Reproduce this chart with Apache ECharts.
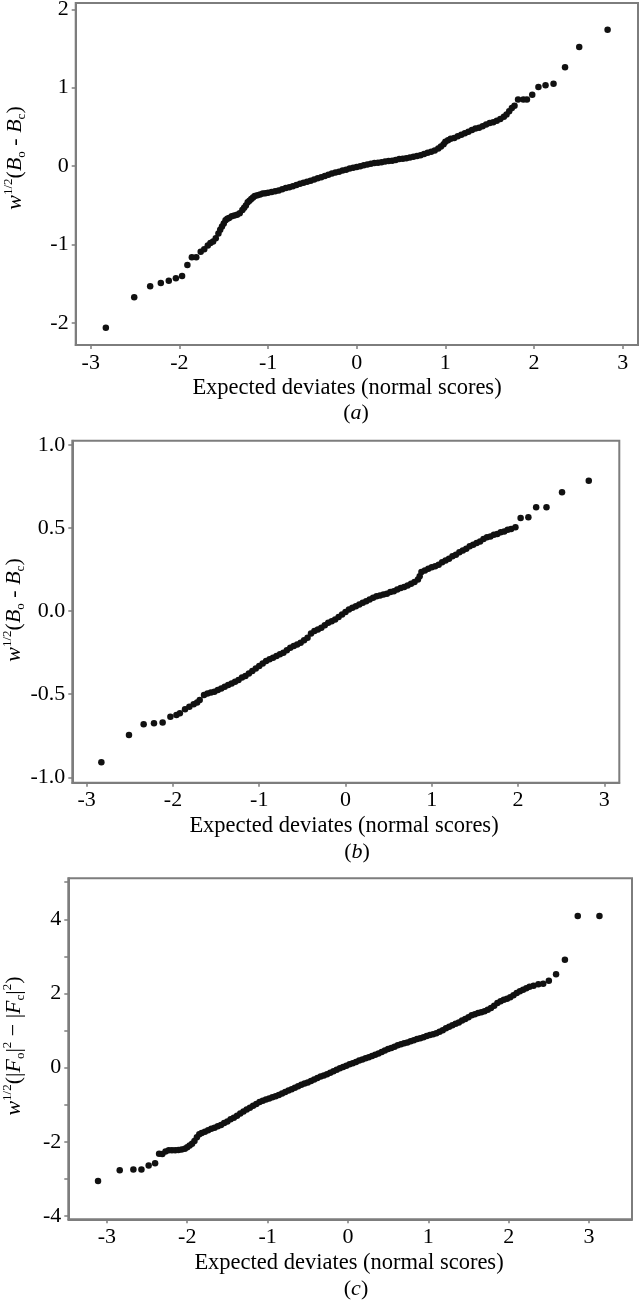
<!DOCTYPE html>
<html><head><meta charset="utf-8">
<script src="https://cdn.jsdelivr.net/npm/echarts@6/dist/echarts.min.js"></script>
<style>html,body{margin:0;padding:0;background:#fff}#c{width:640px;height:1301px}</style>
</head><body><div id="c"></div>
<script>
// ---- data: [expected normal score, weighted residual] ----
const panelA = [[-2.83,-2.06],[-2.51,-1.67],[-2.33,-1.53],[-2.21,-1.49],[-2.12,-1.46],[-2.04,-1.43],[-1.97,-1.40],[-1.91,-1.26],[-1.86,-1.16],[-1.81,-1.16],[-1.76,-1.09],[-1.72,-1.06],[-1.68,-1.01],[-1.65,-0.98],[-1.62,-0.96],[-1.59,-0.92],[-1.56,-0.86],[-1.54,-0.81],[-1.52,-0.77],[-1.50,-0.73],[-1.48,-0.69],[-1.46,-0.67],[-1.44,-0.66],[-1.41,-0.64],[-1.38,-0.63],[-1.35,-0.62],[-1.32,-0.60],[-1.29,-0.56],[-1.27,-0.53],[-1.25,-0.50],[-1.23,-0.46],[-1.21,-0.44],[-1.19,-0.42],[-1.17,-0.40],[-1.15,-0.38],[-1.12,-0.37],[-1.09,-0.36],[-1.06,-0.35],[-1.03,-0.345],[-1.00,-0.34],[-0.96,-0.33],[-0.92,-0.32],[-0.88,-0.31],[-0.84,-0.295],[-0.80,-0.28],[-0.76,-0.27],[-0.72,-0.255],[-0.68,-0.24],[-0.64,-0.225],[-0.60,-0.21],[-0.56,-0.20],[-0.52,-0.185],[-0.48,-0.17],[-0.44,-0.155],[-0.40,-0.14],[-0.36,-0.125],[-0.32,-0.11],[-0.28,-0.095],[-0.24,-0.08],[-0.20,-0.07],[-0.16,-0.055],[-0.12,-0.045],[-0.08,-0.03],[-0.04,-0.02],[0,-0.01],[0.04,0.00],[0.08,0.01],[0.12,0.02],[0.16,0.03],[0.20,0.04],[0.24,0.045],[0.28,0.05],[0.32,0.06],[0.36,0.065],[0.40,0.07],[0.44,0.08],[0.48,0.09],[0.52,0.095],[0.56,0.10],[0.60,0.11],[0.64,0.12],[0.68,0.13],[0.72,0.14],[0.76,0.155],[0.80,0.17],[0.84,0.185],[0.88,0.20],[0.92,0.225],[0.95,0.25],[0.98,0.28],[1.00,0.31],[1.03,0.33],[1.06,0.35],[1.10,0.36],[1.14,0.38],[1.18,0.40],[1.22,0.42],[1.26,0.44],[1.30,0.46],[1.34,0.48],[1.38,0.49],[1.42,0.51],[1.46,0.53],[1.50,0.55],[1.54,0.56],[1.58,0.58],[1.62,0.60],[1.66,0.63],[1.69,0.66],[1.72,0.70],[1.75,0.74],[1.78,0.77],[1.82,0.85],[1.88,0.85],[1.92,0.85],[1.98,0.91],[2.05,1.01],[2.13,1.03],[2.22,1.05],[2.35,1.26],[2.51,1.52],[2.83,1.74]];

const panelB = [[-2.83,-0.91],[-2.51,-0.745],[-2.34,-0.68],[-2.22,-0.675],[-2.12,-0.67],[-2.03,-0.635],[-1.96,-0.625],[-1.92,-0.615],[-1.86,-0.59],[-1.81,-0.575],[-1.76,-0.56],[-1.72,-0.55],[-1.69,-0.535],[-1.64,-0.505],[-1.60,-0.495],[-1.56,-0.49],[-1.52,-0.485],[-1.48,-0.475],[-1.44,-0.465],[-1.40,-0.455],[-1.36,-0.445],[-1.32,-0.435],[-1.28,-0.425],[-1.24,-0.415],[-1.20,-0.40],[-1.16,-0.39],[-1.12,-0.375],[-1.08,-0.36],[-1.04,-0.345],[-1.00,-0.33],[-0.96,-0.315],[-0.92,-0.30],[-0.88,-0.29],[-0.84,-0.28],[-0.80,-0.27],[-0.76,-0.26],[-0.72,-0.25],[-0.68,-0.235],[-0.64,-0.22],[-0.60,-0.21],[-0.56,-0.20],[-0.52,-0.19],[-0.48,-0.175],[-0.44,-0.16],[-0.40,-0.135],[-0.36,-0.12],[-0.32,-0.11],[-0.28,-0.10],[-0.24,-0.085],[-0.20,-0.07],[-0.16,-0.06],[-0.12,-0.05],[-0.08,-0.035],[-0.04,-0.02],[0,-0.005],[0.04,0.01],[0.08,0.02],[0.12,0.03],[0.16,0.04],[0.20,0.05],[0.24,0.06],[0.28,0.07],[0.32,0.08],[0.36,0.09],[0.40,0.095],[0.44,0.10],[0.48,0.105],[0.52,0.115],[0.56,0.12],[0.60,0.13],[0.64,0.14],[0.68,0.145],[0.72,0.155],[0.76,0.165],[0.80,0.175],[0.84,0.19],[0.86,0.21],[0.88,0.235],[0.92,0.245],[0.96,0.255],[1.00,0.265],[1.04,0.27],[1.08,0.28],[1.12,0.295],[1.16,0.305],[1.20,0.315],[1.24,0.33],[1.28,0.34],[1.32,0.355],[1.36,0.365],[1.40,0.375],[1.44,0.39],[1.48,0.40],[1.52,0.41],[1.56,0.42],[1.60,0.435],[1.64,0.445],[1.68,0.45],[1.72,0.46],[1.76,0.465],[1.80,0.475],[1.84,0.48],[1.88,0.49],[1.92,0.495],[1.97,0.505],[2.03,0.56],[2.12,0.565],[2.21,0.625],[2.33,0.625],[2.51,0.715],[2.82,0.785]];

const panelC = [[-3.11,-3.06],[-2.84,-2.77],[-2.67,-2.75],[-2.57,-2.75],[-2.48,-2.64],[-2.40,-2.58],[-2.35,-2.32],[-2.31,-2.33],[-2.27,-2.26],[-2.23,-2.23],[-2.19,-2.23],[-2.15,-2.23],[-2.11,-2.22],[-2.07,-2.21],[-2.03,-2.19],[-2.00,-2.15],[-1.97,-2.10],[-1.94,-2.05],[-1.91,-1.98],[-1.88,-1.88],[-1.85,-1.80],[-1.82,-1.76],[-1.78,-1.73],[-1.74,-1.69],[-1.70,-1.65],[-1.66,-1.62],[-1.62,-1.58],[-1.58,-1.55],[-1.54,-1.49],[-1.50,-1.45],[-1.46,-1.39],[-1.42,-1.35],[-1.38,-1.30],[-1.34,-1.24],[-1.30,-1.18],[-1.26,-1.13],[-1.22,-1.08],[-1.18,-1.03],[-1.14,-0.98],[-1.10,-0.93],[-1.06,-0.89],[-1.02,-0.86],[-0.98,-0.83],[-0.94,-0.80],[-0.90,-0.77],[-0.86,-0.74],[-0.82,-0.70],[-0.78,-0.66],[-0.74,-0.62],[-0.70,-0.58],[-0.66,-0.54],[-0.62,-0.50],[-0.58,-0.46],[-0.54,-0.43],[-0.50,-0.40],[-0.46,-0.36],[-0.42,-0.32],[-0.38,-0.28],[-0.34,-0.24],[-0.30,-0.21],[-0.26,-0.18],[-0.22,-0.14],[-0.18,-0.10],[-0.14,-0.06],[-0.10,-0.02],[-0.06,0.02],[-0.02,0.05],[0.02,0.09],[0.06,0.12],[0.10,0.15],[0.14,0.19],[0.18,0.22],[0.22,0.25],[0.26,0.28],[0.30,0.31],[0.34,0.35],[0.38,0.38],[0.42,0.42],[0.46,0.46],[0.50,0.50],[0.54,0.53],[0.58,0.56],[0.62,0.60],[0.66,0.63],[0.70,0.66],[0.74,0.68],[0.78,0.71],[0.82,0.74],[0.86,0.77],[0.90,0.79],[0.94,0.82],[0.98,0.85],[1.02,0.88],[1.06,0.90],[1.10,0.93],[1.14,0.97],[1.18,1.01],[1.22,1.06],[1.26,1.10],[1.30,1.14],[1.34,1.18],[1.38,1.22],[1.42,1.27],[1.46,1.31],[1.50,1.36],[1.54,1.41],[1.58,1.44],[1.62,1.47],[1.66,1.49],[1.70,1.52],[1.74,1.56],[1.78,1.61],[1.82,1.67],[1.86,1.74],[1.90,1.79],[1.94,1.83],[1.98,1.86],[2.02,1.90],[2.06,1.95],[2.10,2.01],[2.14,2.06],[2.18,2.10],[2.22,2.14],[2.26,2.18],[2.31,2.21],[2.37,2.25],[2.43,2.26],[2.50,2.34],[2.59,2.52],[2.70,2.91],[2.86,4.09],[3.13,4.09]];

const xTicks = [-3,-2,-1,0,1,2,3];
const yTicksA = [-2,-1,0,1,2];
const yTicksB = [-1,-0.5,0,0.5,1];
const yTicksC = [-4,-3,-2,-1,0,1,2,3,4,5];
const yLabelsC = [-4,-2,0,2,4];
const xTitle = 'Expected deviates (normal scores)';
const panelLabels = ['a','b','c'];

const FONT = '"Liberation Serif","Times New Roman",serif';
const AX = '#7d7d7d';

function xAxisFor(gi, min, max) {
  return {
    type: 'value', gridIndex: gi, min: min, max: max, position: 'bottom',
    axisLine: { show: true, onZero: false, lineStyle: { color: AX, width: 2 } },
    axisTick: { show: true, inside: false, length: 4, customValues: xTicks, lineStyle: { color: AX, width: 1.5 } },
    axisLabel: { customValues: xTicks, color: '#000', fontFamily: FONT, fontSize: 22, margin: 7 },
    splitLine: { show: false }
  };
}
function yAxisFor(gi, min, max, ticks, labels, fmt) {
  return {
    type: 'value', gridIndex: gi, min: min, max: max, position: 'left',
    axisLine: { show: true, onZero: false, lineStyle: { color: AX, width: 2 } },
    axisTick: { show: true, inside: false, length: 4, customValues: ticks, lineStyle: { color: AX, width: 1.5 } },
    axisLabel: { customValues: labels, color: '#000', fontFamily: FONT, fontSize: 22, margin: 7, formatter: fmt },
    splitLine: { show: false }
  };
}
function gridFor(left, top, width, height) {
  return { left: left, top: top, width: width, height: height, show: true, borderColor: AX, borderWidth: 2, outerBoundsMode: 'none', containLabel: false };
}
function scatterFor(i, data) {
  return { type: 'scatter', xAxisIndex: i, yAxisIndex: i, data: data, symbol: 'circle', symbolSize: 6.5,
    itemStyle: { color: '#111', opacity: 1 }, silent: true, animation: false };
}

const richY = {
  n: { fontFamily: FONT, fontSize: 22, fill: '#000', lineHeight: 26 },
  i: { fontFamily: FONT, fontSize: 22, fontStyle: 'italic', fill: '#000', lineHeight: 26 },
  sup: { fontFamily: FONT, fontSize: 13, fill: '#000', verticalAlign: 'top', lineHeight: 26 },
  sub: { fontFamily: FONT, fontSize: 13, fill: '#000', verticalAlign: 'bottom', lineHeight: 22 }
};
const richP = {
  n: { fontFamily: FONT, fontSize: 22, fill: '#000' },
  i: { fontFamily: FONT, fontSize: 22, fontStyle: 'italic', fill: '#000' }
};
function text(x, y, t, rot, rich) {
  return { type: 'text', x: x, y: y, rotation: rot || 0, silent: true,
    style: { text: t, fontFamily: FONT, fontSize: 22.5, fill: '#000', align: 'center', verticalAlign: 'middle', rich: rich } };
}
const yNameAB = '{i|w}{sup|1/2}{n|(}{i|B}{sub|o}{n| - }{i|B}{sub|c}{n|)}';
const yNameC = '{i|w}{sup|1/2}{n|(|}{i|F}{sub|o}{n||}{sup|2}{n| − |}{i|F}{sub|c}{n||}{sup|2}{n|)}';

const chart = echarts.init(document.getElementById('c'), null, { renderer: 'canvas' });
chart.setOption({
  animation: false,
  backgroundColor: '#fff',
  grid: [gridFor(75.7, 3, 562.3, 342), gridFor(72.3, 440.7, 547, 342), gridFor(68.3, 878.3, 563.7, 341)],
  xAxis: [xAxisFor(0, -3.17, 3.173), xAxisFor(1, -3.167, 3.174), xAxisFor(2, -3.48, 3.535)],
  yAxis: [
    yAxisFor(0, -2.28, 2.08, yTicksA, yTicksA, v => String(v)),
    yAxisFor(1, -1.0325, 1.026, yTicksB, yTicksB, v => v.toFixed(1)),
    yAxisFor(2, -4.09, 5.105, yTicksC, yLabelsC, v => String(v))
  ],
  series: [scatterFor(0, panelA), scatterFor(1, panelB), scatterFor(2, panelC)],
  graphic: [
    text(15, 158, yNameAB, Math.PI / 2, richY),
    text(14, 610, yNameAB, Math.PI / 2, richY),
    text(14, 1046, yNameC, Math.PI / 2, richY),
    text(347, 388, xTitle),
    text(344, 826, xTitle),
    text(349, 1263, xTitle),
    text(356, 413, '{n|(}{i|' + panelLabels[0] + '}{n|)}', 0, richP),
    text(357, 852, '{n|(}{i|' + panelLabels[1] + '}{n|)}', 0, richP),
    text(356, 1289, '{n|(}{i|' + panelLabels[2] + '}{n|)}', 0, richP)
  ]
});
</script>
</body></html>
